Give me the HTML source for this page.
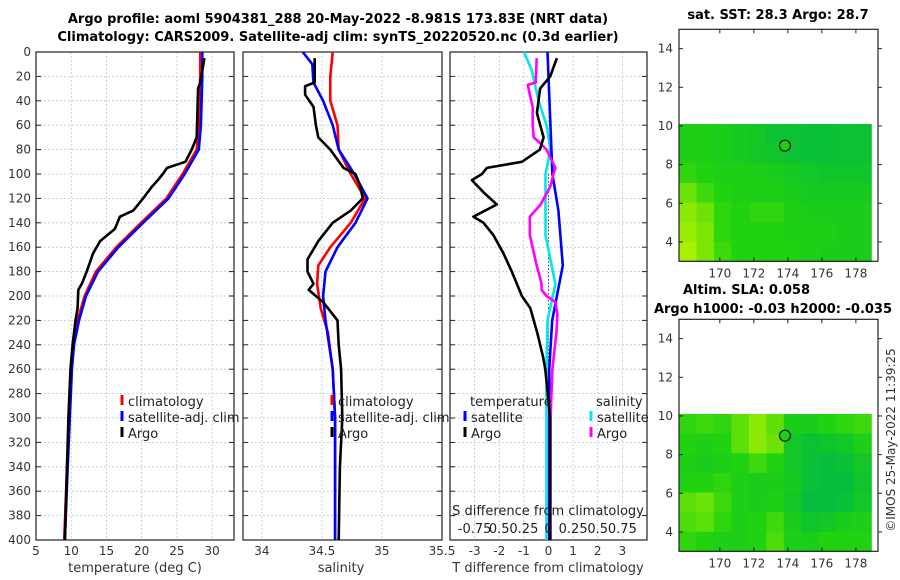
<!DOCTYPE html>
<html><head><meta charset="utf-8"><style>
html,body{margin:0;padding:0;background:#fff;}
svg{display:block;font-family:"DejaVu Sans","Liberation Sans",sans-serif;}
</style></head><body>
<svg id="fig" width="900" height="580" viewBox="0 0 900 580" xmlns="http://www.w3.org/2000/svg">
<text x="338" y="23" font-size="13" font-weight="bold" text-anchor="middle">Argo profile: aoml 5904381_288 20-May-2022 -8.981S 173.83E (NRT data)</text>
<text x="338" y="41" font-size="13" font-weight="bold" text-anchor="middle">Climatology: CARS2009. Satellite-adj clim: synTS_20220520.nc (0.3d earlier)</text>
<text x="778" y="19" font-size="13" font-weight="bold" text-anchor="middle">sat. SST: 28.3 Argo: 28.7</text>
<text x="683" y="294" font-size="13" font-weight="bold">Altim. SLA: 0.058</text>
<text x="773" y="313" font-size="13" font-weight="bold" text-anchor="middle">Argo h1000: -0.03 h2000: -0.035</text>
<text transform="translate(895,440) rotate(-90)" font-size="12" fill="#333" text-anchor="middle">©IMOS 25-May-2022 11:39:25</text>
</svg>
<script>
// ---------- data ----------
const depthTicks=[0,20,40,60,80,100,120,140,160,180,200,220,240,260,280,300,320,340,360,380,400];
const tempTicks=[5,10,15,20,25,30];
const salTicks=[34,34.5,35,35.5];
const tdTicks=[-3,-2,-1,0,1,2,3];
const sdTicks=[-0.75,-0.5,-0.25,0,0.25,0.5,0.75];
const sdTickLabels=["-0.75","0.5","0.25","0","0.25","0.5","0.75"];
const tempClimDepth=[0,20,40,60,80,100,120,140,160,180,200,220,240,260,300,340,400];
const tempClim=[28.3,28.3,28.2,28.1,27.8,25.8,23.5,19.9,16.4,13.5,11.9,10.9,10.3,10.0,9.7,9.4,9.0];
const tempSat=[28.6,28.6,28.5,28.4,28.1,26.1,23.8,20.2,16.7,13.8,12.1,11.1,10.4,10.1,9.8,9.5,9.1];
const tempArgoDepth=[5,25,30,70,80,90,95,100,105,110,120,130,135,145,155,165,180,190,195,210,220,240,260,300,400];
const tempArgo=[28.9,28.3,28.0,27.8,27.1,26.2,23.6,23.0,22.3,21.5,20.2,18.8,16.9,16.2,14.1,13.1,12.2,11.5,11.0,10.9,10.6,10.2,9.9,9.6,9.1];
const salClimDepth=[0,20,40,60,80,100,120,140,160,175,190,210,230,260,300,400];
const salClim=[34.59,34.57,34.57,34.63,34.64,34.74,34.86,34.74,34.57,34.47,34.46,34.49,34.55,34.59,34.61,34.61];
const salSatDepth=[0,10,25,40,60,80,100,120,140,160,180,200,220,260,300,400];
const salSat=[34.34,34.42,34.43,34.51,34.59,34.64,34.77,34.88,34.78,34.63,34.53,34.51,34.53,34.59,34.61,34.61];
const salArgoDepth=[5,25,28,35,45,60,70,80,95,100,110,120,130,140,155,170,180,190,195,205,220,240,260,300,340,400];
const salArgo=[34.44,34.44,34.36,34.36,34.43,34.45,34.47,34.57,34.68,34.78,34.82,34.84,34.74,34.59,34.47,34.38,34.38,34.43,34.39,34.51,34.63,34.64,34.66,34.67,34.65,34.64];
const tdSatDepth=[0,100,130,175,200,220,260,400];
const tdSat=[-0.04,0.16,0.4,0.58,0.34,0.15,0.03,0.03];
const tdArgoDepth=[5,20,30,50,70,80,90,95,100,105,115,125,135,140,150,165,180,200,210,230,250,260,300,400];
const tdArgo=[0.34,0.07,-0.34,-0.47,-0.2,-0.35,-1.08,-2.5,-2.7,-3.11,-2.64,-2.1,-3.05,-2.64,-2.24,-1.83,-1.49,-1.08,-0.74,-0.46,-0.22,-0.13,0.07,0.07];
const sdSatDepth=[0,15,40,60,80,100,150,190,220,260,400];
const sdSat=[-0.25,-0.17,-0.10,-0.02,0.02,-0.03,-0.03,0.07,-0.01,-0.02,-0.02];
const sdArgoDepth=[5,25,27,35,45,60,70,75,80,95,100,110,125,135,150,175,190,195,200,205,215,230,260,300,400];
const sdArgo=[-0.12,-0.13,-0.21,-0.19,-0.16,-0.16,-0.15,-0.08,-0.02,0.07,0.05,0.02,-0.08,-0.19,-0.19,-0.12,-0.07,-0.07,-0.02,0.07,0.09,0.08,0.04,0.02,0.02];
const lonTicks=[170,172,174,176,178];
const latTicks=[4,6,8,10,12,14];
const sstField=[
[.45,.45,.4,.35,.3,.2,.2,.15,.15,.2,.2],
[.45,.45,.4,.35,.3,.25,.2,.15,.15,.2,.2],
[.55,.5,.45,.45,.45,.4,.35,.3,.25,.25,.25],
[.75,.6,.5,.45,.45,.45,.4,.35,.35,.35,.35],
[.85,.75,.55,.5,.55,.55,.45,.4,.4,.4,.4],
[.9,.8,.55,.5,.5,.5,.45,.45,.45,.4,.4],
[.95,.8,.6,.5,.5,.5,.5,.45,.4,.4,.4]];
const slaField=[
[.55,.6,.55,.7,.85,.7,.4,.4,.5,.55,.6],
[.5,.45,.5,.7,.85,.75,.3,.2,.25,.3,.45],
[.45,.4,.45,.5,.6,.5,.3,.15,.1,.15,.3],
[.5,.5,.55,.45,.4,.4,.35,.15,.1,.1,.25],
[.7,.75,.6,.45,.4,.45,.3,.1,.1,.15,.3],
[.65,.7,.55,.45,.5,.6,.4,.25,.3,.4,.45],
[.55,.5,.45,.45,.5,.65,.45,.4,.5,.5,.5]];
const argoLon=173.83, argoLat=8.98;

// ---------- helpers ----------
const svg=document.getElementById('fig');
const NS='http://www.w3.org/2000/svg';
function mk(tag,attrs,parent){const e=document.createElementNS(NS,tag);for(const k in attrs)e.setAttribute(k,attrs[k]);(parent||svg).appendChild(e);return e;}
function txt(x,y,s,size,anchor,fill){const t=mk('text',{x:x,y:y,'font-size':size||12,'text-anchor':anchor||'middle',fill:fill||'#333'});t.textContent=s;return t;}
const Y0=52,Y1=540;
const yD=d=>Y0+(d/400)*(Y1-Y0);
function panel(name,x0,x1,xmin,xmax,ticks,labels){
  const sx=v=>x0+(v-xmin)/(xmax-xmin)*(x1-x0);
  const g=mk('g',{});
  
  
  ticks.forEach(v=>{mk('line',{x1:sx(v),x2:sx(v),y1:Y0,y2:Y1,stroke:'#b8c4e8','stroke-width':0.8,'stroke-dasharray':'2,2'},g);
    const t=txt(sx(v),555,labels?labels(v):String(v),12,'middle','#333');
    
    });
  depthTicks.forEach(d=>{mk('line',{x1:x0,x2:x1,y1:yD(d),y2:yD(d),stroke:'#b8c4e8','stroke-width':0.8,'stroke-dasharray':'2,2'},g);
    mk('line',{x1:x0,x2:x0+5,y1:yD(d),y2:yD(d),stroke:'#222'},g);
    mk('line',{x1:x1-5,x2:x1,y1:yD(d),y2:yD(d),stroke:'#222'},g);});
  mk('rect',{x:x0,y:Y0,width:x1-x0,height:Y1-Y0,fill:'none',stroke:'#222','stroke-width':1.2},g);
  return sx;
}
function line(name,sx,xs,ds,color,w){
  const pts=xs.map((v,i)=>sx(v).toFixed(1)+','+yD(ds[i]).toFixed(1)).join(' ');
  const p=mk('polyline',{points:pts,fill:'none',stroke:color,'stroke-width':w||2.6,'stroke-linejoin':'round'});
  
  
}
function legend(x,y,color,label,name){
  mk('line',{x1:x,x2:x,y1:y-11,y2:y-1,stroke:color,'stroke-width':3});
  const t=txt(x+6,y,label,13,'start','#222');
  
  
}

// depth labels
depthTicks.forEach(d=>{const t=txt(31,yD(d)+4,String(d),12,'end','#333');
  
  });

// panel 1 temperature
const sxT=panel('temperature-panel',36,234,5,33.1,tempTicks);
line('temp-climatology-line',sxT,tempClim,tempClimDepth,'#ff0000');
line('temp-satellite-line',sxT,tempSat,tempClimDepth,'#0000ff');
line('temp-argo-line',sxT,tempArgo,tempArgoDepth,'#000000');
let tl=txt(135,572,'temperature (deg C)',13,'middle','#333');
legend(122,406,'#ff0000','climatology','legend-climatology');
legend(122,422,'#0000ff','satellite-adj. clim','legend-satellite');
legend(122,438,'#000000','Argo','legend-argo');

// panel 2 salinity
const sxS=panel('salinity-panel',243,442,33.843,35.5,salTicks);
line('sal-climatology-line',sxS,salClim,salClimDepth,'#ff0000');
line('sal-satellite-line',sxS,salSat,salSatDepth,'#0000ff');
line('sal-argo-line',sxS,salArgo,salArgoDepth,'#000000');
tl=txt(341,572,'salinity',13,'middle','#333');
legend(332,406,'#ff0000','climatology','legend-sal-climatology');
legend(332,422,'#0000ff','satellite-adj. clim','legend-sal-satellite');
legend(332,438,'#000000','Argo','legend-sal-argo');

// panel 3 differences
const sxD=panel('difference-panel',450,647,-4,4,tdTicks);
const sxSD=v=>sxD(v*4);
mk('line',{x1:sxD(0),x2:sxD(0),y1:yD(100),y2:Y1,stroke:'#555','stroke-width':1,'stroke-dasharray':'1.5,2'});
line('sdiff-satellite-line',sxSD,sdSat,sdSatDepth,'#00e8e8');
line('tdiff-satellite-line',sxD,tdSat,tdSatDepth,'#0000ff');
line('sdiff-argo-line',sxSD,sdArgo,sdArgoDepth,'#ff00ff');
line('tdiff-argo-line',sxD,tdArgo,tdArgoDepth,'#000000');
tl=txt(548,572,'T difference from climatology',13,'middle','#333');
tl=txt(548,515,'S difference from climatology',13,'middle','#222');
sdTicks.forEach((v,i)=>{const t=txt(sxSD(v),533,sdTickLabels[i],13,'middle','#222');
  
  });
tl=txt(470,406,'temperature',13,'start','#222');
tl=txt(596,406,'salinity',13,'start','#222');
legend(465,422,'#0000ff','satellite','legend-t-satellite');
legend(465,438,'#000000','Argo','legend-t-argo');
legend(591,422,'#00e8e8','satellite','legend-s-satellite');
legend(591,438,'#ff00ff','Argo','legend-s-argo');

// ---------- maps ----------
function fieldColor(v){
  const a=[0,184,72],b=[32,210,16],c=[184,244,0];
  let p,q,t;
  if(v<0.5){p=a;q=b;t=v/0.5;}else{p=b;q=c;t=(v-0.5)/0.5;}
  return 'rgb('+p.map((x,i)=>Math.round(x+(q[i]-x)*t)).join(',')+')';
}
function map(name,top,field){
  const X0=679,X1=878,Y1m=top+232;
  const lonMin=167.6,lonMax=179.3,latMin=3,latMax=15;
  const mx=l=>X0+(l-lonMin)/(lonMax-lonMin)*(X1-X0);
  const my=l=>top+(latMax-l)/(latMax-latMin)*232;
  const g=mk('g',{});
  
  
  const rows=field.length,cols=field[0].length;
  const dataLonMax=178.9,dataLatMax=10.1;
  const cw=(dataLonMax-lonMin)/cols,ch=(dataLatMax-latMin)/rows;
  field.forEach((r,i)=>r.forEach((v,j)=>{
    const c=mk('rect',{x:mx(lonMin+j*cw).toFixed(1),y:my(dataLatMax-i*ch).toFixed(1),width:(mx(lonMin+cw)-mx(lonMin)+0.6).toFixed(1),height:(my(0)-my(ch)+0.6).toFixed(1),fill:fieldColor(v)},g);
    
    
  }));
  const circ=mk('circle',{cx:mx(argoLon),cy:my(argoLat),r:5.5,fill:fieldColor(0.45),stroke:'#111','stroke-width':1.2},g);
  
  
  mk('rect',{x:X0,y:top,width:X1-X0,height:232,fill:'none',stroke:'#222','stroke-width':1.2},g);
  lonTicks.forEach(l=>{mk('line',{x1:mx(l),x2:mx(l),y1:Y1m,y2:Y1m-4,stroke:'#222'},g);mk('line',{x1:mx(l),x2:mx(l),y1:top,y2:top+4,stroke:'#222'},g);
    const t=txt(mx(l),Y1m+16,String(l),12,'middle','#333');});
  latTicks.forEach(l=>{mk('line',{x1:X0,x2:X0+4,y1:my(l),y2:my(l),stroke:'#222'},g);mk('line',{x1:X1,x2:X1+4,y1:my(l),y2:my(l),stroke:'#222'},g);
    const t=txt(673,my(l)+4,String(l),12,'end','#333');});
}
map('sst-map',29.3,sstField);
map('sla-map',319.3,slaField);
</script>
</body></html>
